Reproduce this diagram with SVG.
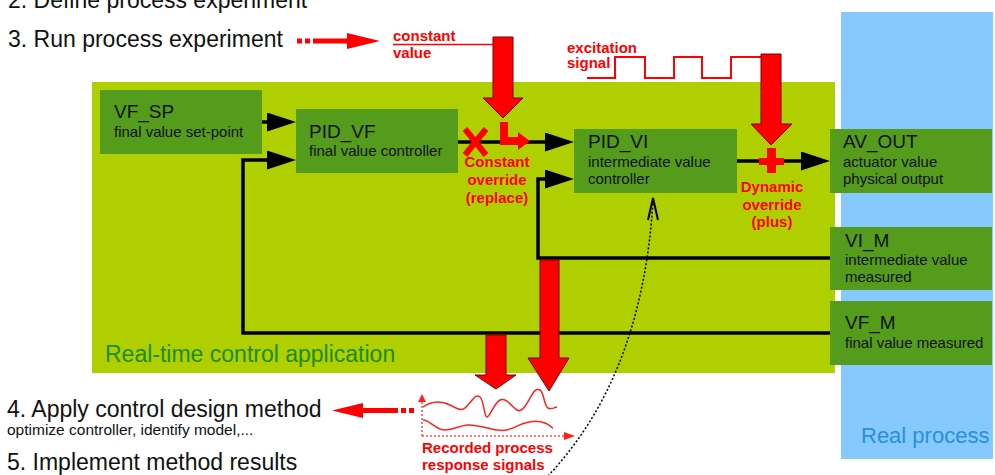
<svg xmlns="http://www.w3.org/2000/svg" width="995" height="475" viewBox="0 0 995 475">
  <defs>
    <style>
      text { font-family: "Liberation Sans", Arial, sans-serif; }
      .step { font-size: 23px; fill: #111; }
      .note { font-size: 15.5px; fill: #111; }
      .red { font-size: 15px; font-weight: bold; fill: #ff0000; }
      .title { font-size: 19px; fill: #111; }
      .sub { font-size: 15px; fill: #111; }
      .node { fill: #559b1c; }
      .wire { fill: none; stroke: #000; stroke-width: 3.5; stroke-linejoin: miter; }
      .big { fill: #ff0000; stroke: #7a0000; stroke-width: 1; }
      .sig { fill: none; stroke: #ff2020; stroke-width: 1.5; stroke-linejoin: round; }
      .axis { fill: none; stroke: #ff4a4a; stroke-width: 1.5; stroke-dasharray: 2 2; }
    </style>
    <marker id="head" viewBox="0 0 29 19" refX="0" refY="9.5" markerWidth="29" markerHeight="19" markerUnits="userSpaceOnUse" orient="auto">
      <path d="M0,0 L29,9.5 L0,19 Z" fill="#000"/>
    </marker>
  </defs>

  <rect width="995" height="475" fill="#fff"/>

  <!-- areas -->
  <g id="real-process">
    <rect x="841" y="12" width="152" height="447" fill="#85c9ff"/>
    <text x="861" y="443" font-size="22" fill="#2b8fdc">Real process</text>
  </g>
  <g id="control-application">
    <rect x="92" y="82" width="743" height="291" fill="#afcf00"/>
    <text x="105" y="362" font-size="23" fill="#1c8c14">Real-time control application</text>
  </g>

  <!-- nodes -->
  <g id="vf_sp">
    <rect class="node" x="100" y="90" width="162" height="64"/>
    <text class="title" x="114" y="118">VF_SP</text>
    <text class="sub" x="114" y="137">final value set-point</text>
  </g>
  <g id="pid_vf">
    <rect class="node" x="296" y="109" width="162" height="64"/>
    <text class="title" x="309" y="138">PID_VF</text>
    <text class="sub" x="309" y="156">final value controller</text>
  </g>
  <g id="pid_vi">
    <rect class="node" x="574" y="129" width="163" height="64"/>
    <text class="title" x="588" y="148">PID_VI</text>
    <text class="sub" x="588" y="167">intermediate value</text>
    <text class="sub" x="588" y="184">controller</text>
  </g>
  <g id="av_out">
    <rect class="node" x="830" y="129" width="162" height="64"/>
    <text class="title" x="843" y="148">AV_OUT</text>
    <text class="sub" x="843" y="167">actuator value</text>
    <text class="sub" x="843" y="184">physical output</text>
  </g>
  <g id="vi_m">
    <rect class="node" x="830" y="227" width="162" height="63"/>
    <text class="title" x="845" y="247">VI_M</text>
    <text class="sub" x="845" y="265">intermediate value</text>
    <text class="sub" x="845" y="282">measured</text>
  </g>
  <g id="vf_m">
    <rect class="node" x="830" y="301" width="162" height="64"/>
    <text class="title" x="845" y="329">VF_M</text>
    <text class="sub" x="845" y="348">final value measured</text>
  </g>

  <!-- signal connections -->
  <g id="connectors">
    <path class="wire" d="M262,122 H267" marker-end="url(#head)"/>
    <path class="wire" d="M830,333 H243 V160 H267" marker-end="url(#head)"/>
    <path class="wire" d="M458,142 H545" marker-end="url(#head)"/>
    <path class="wire" d="M830,258 H538 V179 H545" marker-end="url(#head)"/>
    <path class="wire" d="M737,161 H801" marker-end="url(#head)"/>
  </g>

  <!-- steps of the procedure -->
  <g id="steps">
    <text class="step" x="8" y="8">2. Define process experiment</text>
    <text class="step" x="8" y="47">3. Run process experiment</text>
    <text class="step" x="7" y="417">4. Apply control design method</text>
    <text class="note" x="7" y="435">optimize controller, identify model,...</text>
    <text class="step" x="7" y="470">5. Implement method results</text>
  </g>

  <!-- experiment: run arrow -->
  <g id="run-arrow" fill="#ff0000">
    <rect x="297" y="38.5" width="5" height="5"/>
    <rect x="305" y="38.5" width="5" height="5"/>
    <rect x="313" y="38.5" width="35" height="5"/>
    <path d="M347,33 L380,41 L347,49 Z"/>
  </g>

  <!-- constant override -->
  <g id="constant-override">
    <text class="red" x="393" y="41">constant</text>
    <text class="red" x="393" y="58">value</text>
    <line x1="393" y1="44.5" x2="494" y2="44.5" stroke="#ff0000" stroke-width="1.5"/>
    <path class="big" d="M493,37 H513 V98 H523 L503,118 L483,98 H493 Z"/>
    <path d="M465,129 L486,155 M486,129 L465,155" stroke="#ff0000" stroke-width="6" fill="none"/>
    <path d="M500,122 H508 V137 H518 V132 L530,141 L518,150 V145 H500 Z" fill="#ff0000"/>
    <text class="red" x="497" y="167" text-anchor="middle">Constant</text>
    <text class="red" x="497" y="185" text-anchor="middle">override</text>
    <text class="red" x="497" y="203" text-anchor="middle">(replace)</text>
  </g>

  <!-- dynamic override -->
  <g id="dynamic-override">
    <text class="red" x="567" y="53">excitation</text>
    <text class="red" x="567" y="68">signal</text>
    <polyline points="587,78 615,78 615,57 645,57 645,78 674,78 674,57 702,57 702,78 731,78 731,57 762,57" fill="none" stroke="#ff0000" stroke-width="2"/>
    <path class="big" d="M761,54 H781 V124 H792 L771,145 L751,124 H761 Z"/>
    <rect x="767" y="148" width="9" height="25" fill="#ff0000"/>
    <rect x="759" y="158" width="25" height="7" fill="#ff0000"/>
    <text class="red" x="772" y="192" text-anchor="middle">Dynamic</text>
    <text class="red" x="772" y="210" text-anchor="middle">override</text>
    <text class="red" x="772" y="227" text-anchor="middle">(plus)</text>
  </g>

  <!-- recording -->
  <g id="recording">
    <path class="big" d="M486,335 H506 V375 H516 L496,389 L475,375 H486 Z"/>
    <path class="big" d="M540,260 H559 V358 H569 L549,391 L528,358 H540 Z"/>
    <path class="axis" d="M422,436 V401"/>
    <path d="M418,402 L422,394 L426,402 Z" fill="#ff2020"/>
    <path class="axis" d="M422,436 H565"/>
    <path d="M564,432 L575,436 L564,440 Z" fill="#ff2020"/>
    <path class="sig" d="M423,407 C430,402 440,400 450,405 S462,412 468,405 S476,394 480,397 S484,417 487,417 S494,403 500,400 S512,407 517,410 S526,405 530,398 S536,388 540,390 S544,406 548,408 S555,407 557,407"/>
    <path class="sig" d="M423,420 C430,420 436,430 445,430 S458,426 467,425 S485,428 497,430 S515,426 525,423 S540,421 545,423 S552,428 553,428"/>
    <text class="red" x="422" y="453">Recorded process</text>
    <text class="red" x="422" y="470">response signals</text>
  </g>

  <!-- results back to design method -->
  <g id="design-arrow" fill="#ff0000">
    <path d="M332,410.5 L363,403 L363,418 Z"/>
    <rect x="362" y="408" width="36" height="5"/>
    <rect x="401" y="408" width="5" height="5"/>
    <rect x="409" y="408" width="5" height="5"/>
  </g>

  <!-- identified model fed back into the controller -->
  <g id="model-feedback" fill="none" stroke="#000">
    <path d="M548,476 C605,415 645,330 653,201" stroke-width="1.5" stroke-dasharray="2 2"/>
    <polyline points="648,220 653,198 658,220" stroke-width="2"/>
  </g>
</svg>
